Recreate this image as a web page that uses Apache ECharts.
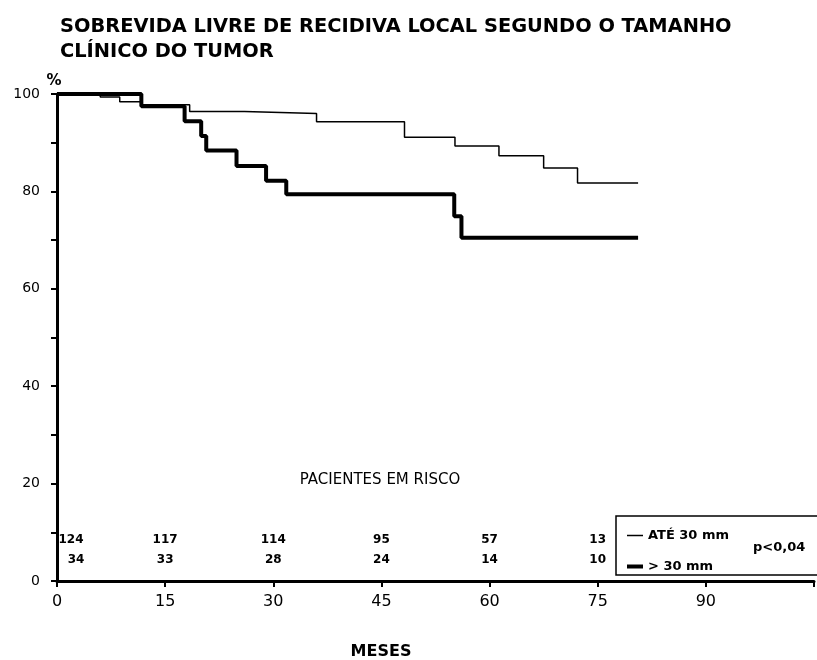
<!DOCTYPE html>
<html>
<head>
<meta charset="utf-8">
<script src="https://cdn.jsdelivr.net/npm/echarts@6/dist/echarts.min.js"></script>
<style>
html,body{margin:0;padding:0;background:#fff;}
#chart{width:817px;height:660px;}
</style>
</head>
<body>
<div id="chart"></div>
<script>
const titleLines = ["SOBREVIDA LIVRE DE RECIDIVA LOCAL SEGUNDO O TAMANHO", "CLÍNICO DO TUMOR"];
const seriesNames = ["ATÉ 30 mm", "> 30 mm"];
const thinTimes = [0, 6, 8.7, 11.7, 18.4, 26, 36, 48.2, 55.2, 61.3, 67.5, 72.2, 80.6];
const thinSurv  = [100, 99.4, 98.4, 97.8, 96.4, 96.0, 94.3, 91.1, 89.3, 87.3, 84.8, 81.7, 81.7];
const thickTimes = [0, 11.7, 17.7, 20, 20.7, 24.9, 29, 31.8, 55.1, 56.1, 80.6];
const thickSurv  = [100, 97.5, 94.4, 91.4, 88.4, 85.2, 82.2, 79.4, 74.9, 70.5, 70.5];
const atRiskTimes = [0, 15, 30, 45, 60, 75];
const atRiskSmall = [124, 117, 114, 95, 57, 13];
const atRiskLarge = [34, 33, 28, 24, 14, 10];
const xTicks = [0, 15, 30, 45, 60, 75, 90];
const yTicks = [0, 20, 40, 60, 80, 100];
const pText = "p<0,04";
const atRiskTitle = "PACIENTES EM RISCO";
const xName = "MESES";

const FONT = "DejaVu Sans";
const THIN = 1.5, THICK = 4;
const chart = echarts.init(document.getElementById('chart'));

function zip(a, b) { return a.map((v, i) => [v, b[i]]); }
function riskRow(counts, level, firstOffset) {
  return atRiskTimes.map((t, i) => {
    const item = { value: [t, level, counts[i]] };
    if (i === 0) item.label = { offset: [firstOffset, 0] };
    return item;
  });
}
const riskLabel = { show: true, position: 'inside', formatter: p => p.value[2], fontFamily: FONT, fontWeight: 'bold', fontSize: 12, color: '#000', opacity: 1 };

const option = {
  animation: false,
  backgroundColor: '#fff',
  title: {
    text: titleLines.join('\n'),
    left: 55, top: 9,
    textStyle: { fontFamily: FONT, fontWeight: 'bold', fontSize: 19.4, lineHeight: 25, color: '#000' }
  },
  grid: { left: 57, right: 2, top: 94, bottom: 79 },
  legend: {
    data: [
      { name: seriesNames[0], lineStyle: { width: THIN } },
      { name: seriesNames[1], lineStyle: { width: THICK } }
    ],
    orient: 'vertical',
    left: 620, top: 524,
    itemWidth: 16, itemHeight: 14, itemGap: 18,
    itemStyle: { opacity: 0 },
    textStyle: { fontFamily: FONT, fontWeight: 'bold', fontSize: 13, color: '#000' },
    selectedMode: false
  },
  xAxis: {
    type: 'value', min: 0, max: 105, interval: 15,
    axisLine: { lineStyle: { color: '#000', width: 3 } },
    axisTick: { show: true, length: 6, lineStyle: { color: '#000', width: 2 } },
    axisLabel: {
      margin: 13, fontFamily: FONT, fontSize: 16, color: '#000',
      formatter: v => xTicks.indexOf(v) >= 0 ? String(v) : ''
    },
    splitLine: { show: false }
  },
  yAxis: {
    type: 'value', min: 0, max: 100, interval: 10,
    axisLine: { show: true, lineStyle: { color: '#000', width: 3 } },
    axisTick: { show: true, length: 6, lineStyle: { color: '#000', width: 2 } },
    axisLabel: {
      margin: 17, fontFamily: FONT, fontSize: 14, color: '#000',
      formatter: v => yTicks.indexOf(v) >= 0 ? String(v) : ''
    },
    splitLine: { show: false }
  },
  series: [
    {
      name: seriesNames[0], type: 'line', step: 'end', symbol: 'none',
      data: zip(thinTimes, thinSurv),
      lineStyle: { color: '#000', width: THIN }, itemStyle: { color: '#000', opacity: 0 }, z: 3
    },
    {
      name: seriesNames[1], type: 'line', step: 'end', symbol: 'none',
      data: zip(thickTimes, thickSurv),
      lineStyle: { color: '#000', width: THICK }, itemStyle: { color: '#000', opacity: 0 }, z: 4
    },
    {
      type: 'scatter', symbolSize: 0, silent: true,
      itemStyle: { opacity: 1, color: '#000' },
      data: riskRow(atRiskSmall, 8.4, 14),
      label: riskLabel
    },
    {
      type: 'scatter', symbolSize: 0, silent: true,
      itemStyle: { opacity: 1, color: '#000' },
      data: riskRow(atRiskLarge, 4.3, 19),
      label: riskLabel
    }
  ],
  graphic: [
    { type: 'rect', shape: { x: 616, y: 516, width: 220, height: 59 }, style: { fill: 'none', stroke: '#000', lineWidth: 1.5 }, z: 1 },
    { type: 'text', x: 753, y: 548, style: { text: pText, fontFamily: FONT, fontWeight: 'bold', fontSize: 13, fill: '#000', verticalAlign: 'middle' } },
    { type: 'text', x: 380, y: 480, style: { text: atRiskTitle, fontFamily: FONT, fontSize: 15, fill: '#000', align: 'center', verticalAlign: 'middle' } },
    { type: 'text', x: 381, y: 652, style: { text: xName, fontFamily: FONT, fontWeight: 'bold', fontSize: 16, fill: '#000', align: 'center', verticalAlign: 'middle' } },
    { type: 'text', x: 54, y: 81, style: { text: '%', fontFamily: FONT, fontWeight: 'bold', fontSize: 15, fill: '#000', align: 'center', verticalAlign: 'middle' } }
  ]
};
chart.setOption(option);
</script>
</body>
</html>
